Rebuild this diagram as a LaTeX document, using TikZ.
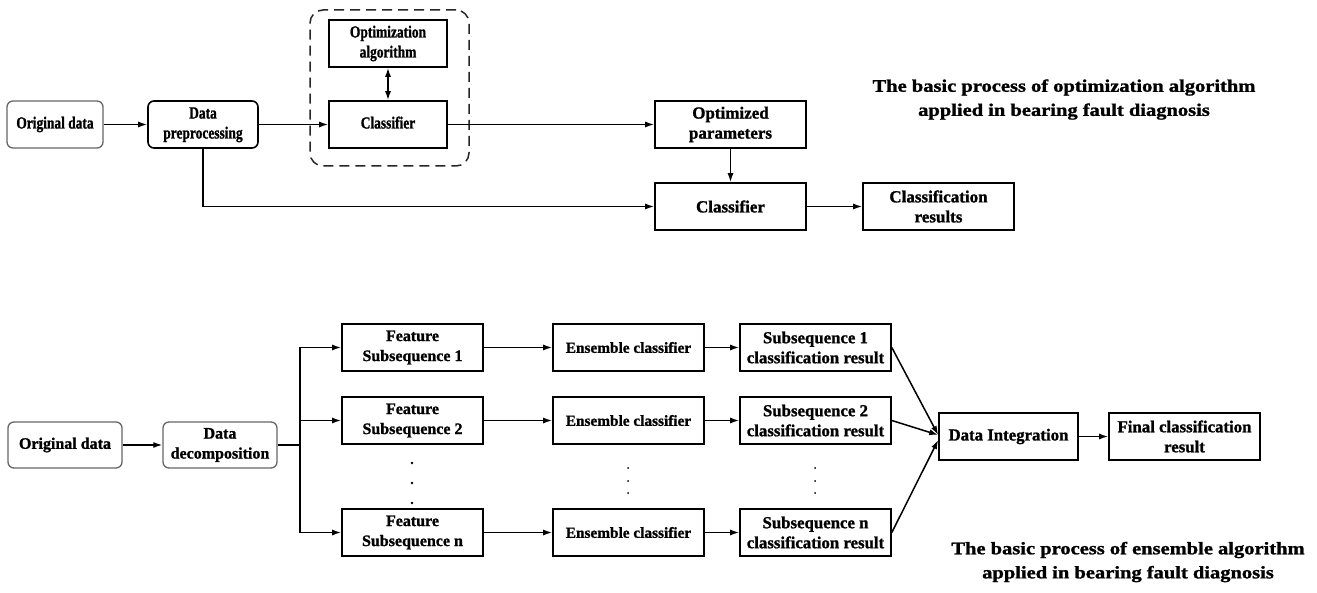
\documentclass[tikz,border=0pt]{standalone}
\usepackage{fontspec}
\setmainfont{Liberation Serif}[BoldFeatures={FakeBold=1.2}]
\usetikzlibrary{arrows.meta,positioning}

% text helpers: bold serif at pixel-like sizes
\newcommand{\fsz}[1]{\fontsize{#1}{20}\selectfont\bfseries}
\newcommand{\narrowtxt}[1]{\scalebox{0.79}[1]{\begin{tabular}{@{}c@{}}#1\end{tabular}}}
\newcommand{\titletxt}[1]{\scalebox{1}[0.86]{\fontsize{20.5}{28}\selectfont\bfseries\begin{tabular}{@{}c@{}}#1\end{tabular}}}

\tikzset{
  box/.style={draw=black, line width=1.6pt, minimum height=47pt, inner sep=0pt, align=center, font=\fsz{17}},
  rbox/.style={box, rounded corners=6pt},
  softbox/.style={rbox, draw=black!60, line width=1.3pt},
  frame/.style={draw=black!85, line width=1.5pt, dash pattern=on 10pt off 6pt, rounded corners=13pt, inner sep=0pt},
  arr/.style={line width=1.5pt, -{Latex[length=9pt,width=6pt]}},
  dbl/.style={line width=1.5pt, {Latex[length=9pt,width=6pt]}-{Latex[length=9pt,width=6pt]}},
  ln/.style={line width=1.5pt},
  dotmark/.style={circle, fill=black, inner sep=0pt},
}

\begin{document}
\begin{tikzpicture}[x=1pt,y=1pt]
\fill[white] (0,0) rectangle (1317,-593);
\useasboundingbox (0,0) rectangle (1317,-593);

% ---------- optimization-based process ----------
\node[softbox, minimum width=96pt]  (o1)  at (55,-124.5)  {\narrowtxt{Original data}};
\node[rbox,    minimum width=110pt] (pre) at (203,-124.5) {\narrowtxt{Data\\preprocessing}};
\node[frame, minimum width=159pt, minimum height=156pt] (grp) at (389.5,-88) {};
\node[box, minimum width=118pt] (opt)  at (388,-43.5)  {\narrowtxt{Optimization\\algorithm}};
\node[box, minimum width=118pt] (cls1) at (388,-124.5) {\narrowtxt{Classifier}};
\node[box, minimum width=151pt] (par)  at (730.5,-124.5) {Optimized\\parameters};
\node[box, minimum width=151pt] (cls2) at (730.5,-206.5) {Classifier};
\node[box, minimum width=151pt] (res)  at (938.5,-206.5) {Classification\\results};

\draw[arr] (o1) -- (pre);
\draw[arr] (pre) -- (cls1);
\draw[dbl] (opt) -- (cls1);
\draw[arr] (cls1) -- (par);
\draw[arr] (par) -- (cls2);
\draw[arr] (cls2) -- (res);
\draw[arr] (pre.south) |- (cls2.west);

\node[inner sep=0pt] (t1) at (1064,-99) {\titletxt{The basic process of optimization algorithm\\applied in bearing fault diagnosis}};

% ---------- ensemble-based process ----------
\node[softbox, minimum width=114pt, minimum height=46pt, font=\fsz{16}] (o2)  at (65,-445)  {Original data};
\node[softbox, minimum width=114pt, minimum height=46pt, font=\fsz{16}] (dec) at (220,-445) {Data\\decomposition};

\node[box, minimum width=141pt, font=\fsz{16}] (f1) at (412.5,-347.5) {Feature\\Subsequence 1};
\node[box, minimum width=141pt, font=\fsz{16}] (f2) at (412.5,-420.5) {Feature\\Subsequence 2};
\node[box, minimum width=141pt, font=\fsz{16}] (fn) at (412.5,-532.5) {Feature\\Subsequence n};

\node[box, minimum width=151pt, font=\fsz{15.3}] (e1) at (628.5,-347.5) {Ensemble classifier};
\node[box, minimum width=151pt, font=\fsz{15.3}] (e2) at (628.5,-420.5) {Ensemble classifier};
\node[box, minimum width=151pt, font=\fsz{15.3}] (en) at (628.5,-532.5) {Ensemble classifier};

\node[box, minimum width=151pt, font=\fsz{16.8}] (s1) at (815.5,-347.5) {Subsequence 1\\classification result};
\node[box, minimum width=151pt, font=\fsz{16.8}] (s2) at (815.5,-420.5) {Subsequence 2\\classification result};
\node[box, minimum width=151pt, font=\fsz{16.8}] (sn) at (815.5,-532.5) {Subsequence n\\classification result};

\node[box, minimum width=139pt, font=\fsz{16.8}] (di)  at (1008.5,-436.5) {Data Integration};
\node[box, minimum width=151pt, font=\fsz{16.8}] (fin) at (1184.5,-436.5) {Final classification\\result};

% continuation dots between rows
\foreach \yy in {463,483,503} \node[dotmark, minimum size=2.6pt] at (412,-\yy) {};
\foreach \yy in {468,481,493} {
  \node[dotmark, minimum size=2pt] at (628,-\yy) {};
  \node[dotmark, minimum size=2pt] at (815,-\yy) {};
}

\draw[arr] (o2) -- (dec);
\coordinate (br) at (300,-445);
\draw[ln] (dec) -- (br);
\draw[ln] (br |- f1) -- (br |- fn);
\draw[arr] (br |- f1) -- (f1);
\draw[arr] (br |- f2) -- (f2);
\draw[arr] (br |- fn) -- (fn);

\draw[arr] (f1) -- (e1);
\draw[arr] (f2) -- (e2);
\draw[arr] (fn) -- (en);
\draw[arr] (e1) -- (s1);
\draw[arr] (e2) -- (s2);
\draw[arr] (en) -- (sn);

\draw[arr] (s1.east) -- ([yshift=1.5pt]di.west);
\draw[arr] (s2.east) -- ([yshift=1.5pt]di.west);
\draw[arr] (sn.east) -- ([yshift=-3.5pt]di.west);
\draw[arr] (di) -- (fin);

\node[inner sep=0pt] (t2) at (1128,-561.5) {\titletxt{The basic process of ensemble algorithm\\applied in bearing fault diagnosis}};
\end{tikzpicture}
\end{document}
